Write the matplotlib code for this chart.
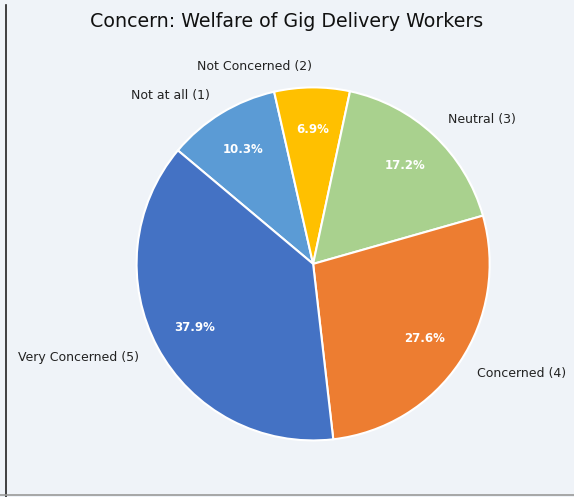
import matplotlib.pyplot as plt
from matplotlib.lines import Line2D

labels = ['Not at all (1)', 'Not Concerned (2)', 'Neutral (3)', 'Concerned (4)', 'Very Concerned (5)']
counts = [3, 2, 5, 8, 11]
colors = ['#5B9BD5', '#FFC000', '#A9D18E', '#ED7D31', '#4472C4']

bg = '#eff3f8'
fig = plt.figure(figsize=(5.74, 4.97), dpi=100, facecolor=bg)
ax = fig.add_axes([0.161, 0.025, 0.769, 0.888])
ax.set_facecolor(bg)

wedges, texts, autotexts = ax.pie(counts, labels=labels, colors=colors, autopct='%1.1f%%',
                                  startangle=140, counterclock=False, pctdistance=0.76,
                                  labeldistance=1.12,
                                  wedgeprops={'edgecolor': 'white', 'linewidth': 1.5},
                                  textprops={'fontsize': 9, 'color': '#222222'})
for t in autotexts:
    t.set_color('white')
    t.set_fontweight('bold')
    t.set_fontsize(8.5)
ax.set_aspect('equal')

fig.text(0.5, 0.957, 'Concern: Welfare of Gig Delivery Workers', ha='center', va='center',
         fontsize=13.7, color='#111111')

# frame edges on the left and bottom
fig.add_artist(Line2D([0.011, 0.011], [0.0, 0.99], color='#222222', lw=1.2, transform=fig.transFigure))
fig.add_artist(Line2D([0.0, 1.0], [0.004, 0.004], color='#999999', lw=1.2, transform=fig.transFigure))

fig.savefig('out.png', dpi=100, facecolor=bg)
